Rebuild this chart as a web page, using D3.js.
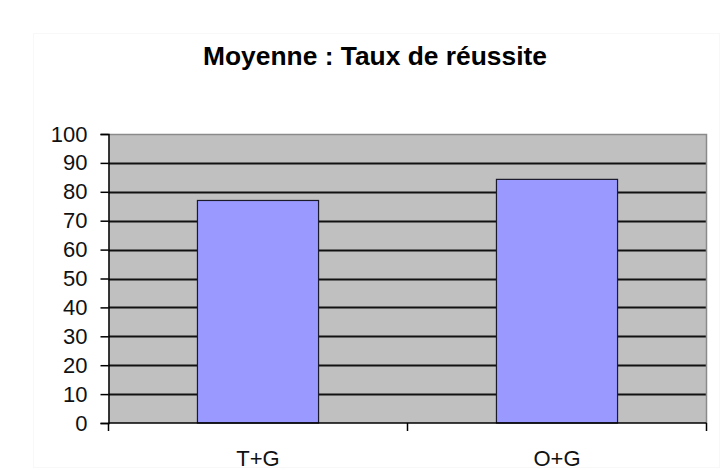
<!DOCTYPE html>
<html>
<head>
<meta charset="utf-8">
<script src="https://cdn.jsdelivr.net/npm/d3@7"></script>
<style>
  html, body { margin: 0; padding: 0; background: #ffffff; }
  svg { display: block; }
  text { font-family: "Liberation Sans", Arial, sans-serif; }
</style>
</head>
<body>
<svg id="chart" width="723" height="470"></svg>
<script>
// Average success rate per group
const categories = ["T+G", "O+G"];
const values = [77, 84.3];
const yTicks = [0, 10, 20, 30, 40, 50, 60, 70, 80, 90, 100];
const title = "Moyenne : Taux de réussite";

const svg = d3.select("#chart");
const W = 723, H = 470;
const plot = { left: 108.5, right: 706.5, top: 134, bottom: 423 };

// very faint outer frame of the chart area
svg.append("rect")
  .attr("x", 33.5).attr("y", 33.5)
  .attr("width", W - 37).attr("height", H - 36)
  .attr("fill", "none").attr("stroke", "#f8f8f8");

const x = d3.scaleBand().domain(categories).range([plot.left, plot.right]).padding(0);
const y = d3.scaleLinear().domain([0, 100]).range([plot.bottom, plot.top]);

// plot background
svg.append("rect")
  .attr("x", plot.left).attr("y", plot.top)
  .attr("width", plot.right - plot.left).attr("height", plot.bottom - plot.top)
  .attr("fill", "#c0c0c0");

// horizontal gridlines
svg.append("g").selectAll("line")
  .data(yTicks.filter(d => d > 0 && d < 100))
  .join("line")
  .attr("x1", plot.left).attr("x2", plot.right)
  .attr("y1", d => Math.round(y(d)) + 0.5).attr("y2", d => Math.round(y(d)) + 0.5)
  .attr("stroke", "#111").attr("stroke-width", 1.8);

// plot border (top and right)
svg.append("path")
  .attr("d", `M${plot.left},${plot.top + 0.5}H${plot.right}V${plot.bottom}`)
  .attr("fill", "none").attr("stroke", "#8a8a8a").attr("stroke-width", 1.5);

// bars
const barW = x.bandwidth() * 0.405;
svg.append("g").selectAll("rect")
  .data(categories.map((c, i) => ({ c, v: values[i] })))
  .join("rect")
  .attr("x", d => x(d.c) + (x.bandwidth() - barW) / 2)
  .attr("y", d => y(d.v))
  .attr("width", barW)
  .attr("height", d => y(0) - y(d.v))
  .attr("fill", "#9999ff")
  .attr("stroke", "#1a1a2a").attr("stroke-width", 1.2);

// y axis
const yAxis = d3.axisLeft(y).tickValues(yTicks).tickSize(8).tickPadding(13).tickFormat(d3.format("d"));
const gy = svg.append("g").attr("transform", `translate(${plot.left},0)`).call(yAxis);
gy.select(".domain").attr("stroke", "#000").attr("stroke-width", 1.5);
gy.selectAll(".tick line").attr("stroke", "#000").attr("stroke-width", 1.5);
gy.selectAll(".tick text")
  .attr("font-family", "'Liberation Sans', Arial, sans-serif")
  .attr("font-size", 22).attr("fill", "#111");

// x axis with ticks at category boundaries
const gx = svg.append("g");
gx.append("line")
  .attr("x1", plot.left).attr("x2", plot.right)
  .attr("y1", plot.bottom).attr("y2", plot.bottom)
  .attr("stroke", "#000").attr("stroke-width", 1.5);
const bounds = categories.map(c => x(c)).concat([x(categories[categories.length - 1]) + x.bandwidth()]);
gx.selectAll("line.tk").data(bounds).join("line").attr("class", "tk")
  .attr("x1", d => d).attr("x2", d => d)
  .attr("y1", plot.bottom).attr("y2", plot.bottom + 8)
  .attr("stroke", "#000").attr("stroke-width", 1.5);
gx.selectAll("text").data(categories).join("text")
  .attr("x", d => x(d) + x.bandwidth() / 2)
  .attr("y", 466)
  .attr("text-anchor", "middle")
  .attr("font-size", 22).attr("fill", "#111")
  .text(d => d);

// title
svg.append("text")
  .attr("x", 375).attr("y", 65)
  .attr("text-anchor", "middle")
  .attr("font-size", 25).attr("font-weight", "bold")
  .attr("textLength", 344).attr("lengthAdjust", "spacingAndGlyphs")
  .attr("fill", "#000")
  .text(title);
</script>
</body>
</html>
